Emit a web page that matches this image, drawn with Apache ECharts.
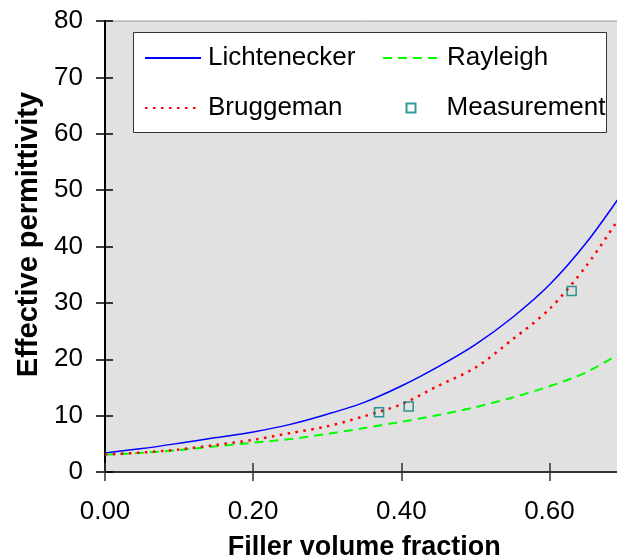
<!DOCTYPE html>
<html>
<head>
<meta charset="utf-8">
<script src="https://cdn.jsdelivr.net/npm/echarts@6/dist/echarts.min.js"></script>
<style>
  html, body { margin: 0; padding: 0; background: #fff; }
  #chart { width: 617px; height: 558px; }
</style>
</head>
<body>
<div id="chart"></div>
<script>
// filler volume fraction (x)
const fraction = [0, 0.05, 0.10, 0.15, 0.20, 0.25, 0.30, 0.35, 0.40, 0.45, 0.50, 0.55, 0.60, 0.65, 0.70];
// model curves
const lichtenecker = [3.35, 4.15, 5.1, 6.1, 7.1, 8.45, 10.25, 12.35, 15.25, 18.7, 22.6, 27.4, 33.2, 40.7, 49.8];
const bruggeman = [3.1, 3.45, 4.0, 4.8, 5.7, 6.9, 8.1, 9.9, 12.0, 15.3, 18.5, 23.5, 28.9, 36.6, 46.2];
const rayleigh = [3.1, 3.4, 3.9, 4.55, 5.2, 5.85, 6.75, 7.8, 8.9, 10.1, 11.5, 13.2, 15.2, 17.7, 21.4];
// measured points
const measureX = [0.37, 0.41, 0.63];
const measureY = [10.6, 11.6, 32.1];

const font = "'Liberation Sans', Arial, sans-serif";

const pairs = (xs, ys) => xs.map((x, i) => [x, ys[i]]);

const chart = echarts.init(document.getElementById('chart'));

// legend entries: one legend per slot so the columns line up
const legendText = { fontFamily: font, fontSize: 26, color: '#000' };
// hides the symbol ECharts puts in the middle of a line legend icon
const noSymbol = { color: 'rgba(0,0,0,0)', borderColor: 'rgba(0,0,0,0)', borderWidth: 0 };
function legendAt(name, left, top, w, h, pad, itemStyle) {
  return {
    data: [itemStyle ? { name: name, itemStyle: itemStyle } : name],
    left: left,
    top: top,
    padding: 0,
    itemWidth: w,
    itemHeight: h,
    selectedMode: false,
    textStyle: Object.assign({ padding: [0, 0, 0, pad] }, legendText)
  };
}

const option = {
  animation: false,
  backgroundColor: '#fff',
  grid: {
    left: 105,
    top: 21,
    right: -6.5,
    bottom: 86,
    outerBoundsMode: 'none',
    show: true,
    backgroundColor: '#e1e1e1',
    borderColor: '#999',
    borderWidth: 1
  },
  graphic: [{
    type: 'rect',
    z: 3,
    shape: { x: 133.5, y: 32.5, width: 473, height: 100 },
    style: { fill: '#fff', stroke: '#333', lineWidth: 1 }
  }],
  legend: [
    legendAt('Lichtenecker', 144, 45, 56, 14, 2, noSymbol),
    legendAt('Rayleigh', 382, 45, 56, 14, 3, noSymbol),
    legendAt('Bruggeman', 144, 95, 56, 14, 2, noSymbol),
    legendAt('Measurement', 405.5, 95, 9, 9, 26)
  ],
  xAxis: [{
    type: 'value',
    min: 0,
    max: 0.7,
    interval: 0.2,
    name: 'Filler volume fraction',
    nameLocation: 'middle',
    nameGap: 62,
    nameTextStyle: { fontFamily: font, fontSize: 27, fontWeight: 'bold', color: '#000' },
    axisLine: { lineStyle: { color: '#333', width: 2 } },
    axisTick: { length: 9, lineStyle: { color: '#333', width: 1.5 } },
    axisLabel: {
      margin: 27,
      fontFamily: font, fontSize: 26, color: '#000',
      showMaxLabel: false,
      formatter: v => v.toFixed(2)
    },
    splitLine: { show: false }
  }, {
    type: 'value',
    min: 0,
    max: 0.7,
    interval: 0.2,
    position: 'bottom',
    axisLine: { show: false },
    axisTick: { inside: true, length: 9, lineStyle: { color: '#333', width: 1.5 } },
    axisLabel: { show: false },
    splitLine: { show: false }
  }],
  yAxis: [{
    type: 'value',
    min: 0,
    max: 80,
    interval: 10,
    name: 'Effective permittivity',
    nameLocation: 'middle',
    nameGap: 62,
    nameTextStyle: { fontFamily: font, fontSize: 29, fontWeight: 'bold', color: '#000', padding: [0, 0, 0, 24] },
    axisLine: { lineStyle: { color: '#000', width: 2 } },
    axisTick: { length: 9, lineStyle: { color: '#000', width: 1.5 } },
    axisLabel: { margin: 22, fontFamily: font, fontSize: 26, color: '#000' },
    splitLine: { show: false }
  }, {
    type: 'value',
    min: 0,
    max: 80,
    interval: 10,
    position: 'left',
    axisLine: { show: false },
    axisTick: { inside: true, length: 8, lineStyle: { color: '#000', width: 1.5 } },
    axisLabel: { show: false },
    splitLine: { show: false }
  }],
  series: [
    {
      name: 'Lichtenecker',
      type: 'line',
      data: pairs(fraction, lichtenecker),
      smooth: 0.3,
      symbol: 'none',
      lineStyle: { color: '#0000ff', width: 1.5 },
      itemStyle: { color: '#0000ff' }
    },
    {
      name: 'Rayleigh',
      type: 'line',
      data: pairs(fraction, rayleigh),
      smooth: 0.3,
      symbol: 'none',
      lineStyle: { color: '#00ff00', width: 2, type: [9, 6] },
      itemStyle: { color: '#00ff00' }
    },
    {
      name: 'Bruggeman',
      type: 'line',
      data: pairs(fraction, bruggeman),
      smooth: 0.3,
      symbol: 'none',
      lineStyle: { color: '#ff0000', width: 2.5, type: [2.5, 5.5] },
      itemStyle: { color: '#ff0000' }
    },
    {
      name: 'Measurement',
      type: 'scatter',
      data: pairs(measureX, measureY),
      symbol: 'rect',
      symbolSize: 9,
      z: 5,
      itemStyle: { color: 'rgba(0,0,0,0)', borderColor: '#008080', borderWidth: 1.5 }
    }
  ]
};

chart.setOption(option);
</script>
</body>
</html>
